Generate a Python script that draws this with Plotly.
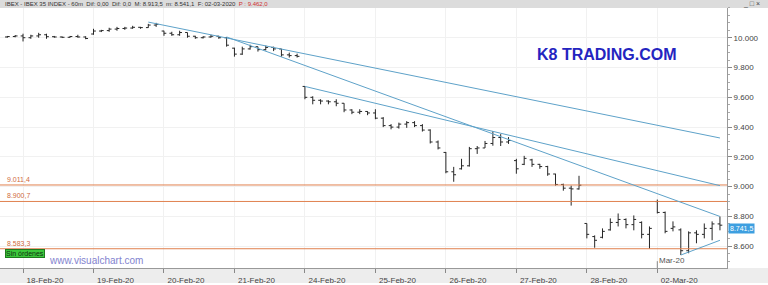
import plotly.graph_objects as go

# ---- data (hourly bars, index 0 = first bar of 18-Feb-20, 9 bars per day) ----
bar_idx = list(range(-2, 90))
opens = [10005, 10008,
         10012, 10000, 10012, 10020, 10007, 10005, 10003, 10008, 10005,
         10025, 10045, 10048, 10058, 10062, 10065, 10070, 10068, 10085,
         10045, 10030, 10020, 10035, 10010, 10000, 10005, 10010, 10000,
         9930, 9890, 9925, 9940, 9920, 9935, 9925, 9885, 9880,
         9673, 9600, 9580, 9575, 9570, 9560, 9515, 9500, 9505,
         9495, 9460, 9410, 9400, 9420, 9430, 9410, 9380, 9300,
         9230, 9100, 9120, 9140, 9255, 9260, 9290, 9330, 9300,
         9175, 9150, 9180, 9150, 9135, 9085, 9015, 8990, 8985,
         8753, 8665, 8660, 8710, 8760, 8780, 8745, 8760, 8680,
         8900, 8827, 8720, 8710, 8570, 8690, 8680, 8720, 8750]
highs = [10012, 10018,
         10027, 10020, 10033, 10027, 10012, 10008, 10012, 10020, 10010,
         10060, 10053, 10067, 10073, 10073, 10080, 10073, 10093, 10100,
         10047, 10040, 10047, 10035, 10013, 10010, 10020, 10013, 10005,
         9933, 9940, 9953, 9940, 9947, 9940, 9925, 9900, 9893,
         9673, 9607, 9587, 9580, 9587, 9560, 9520, 9520, 9507,
         9520, 9467, 9420, 9430, 9440, 9440, 9420, 9385, 9310,
         9233, 9133, 9187, 9267, 9273, 9307, 9373, 9353, 9333,
         9187, 9207, 9187, 9153, 9140, 9087, 9020, 9007, 9073,
         8753, 8673, 8720, 8787, 8820, 8787, 8807, 8767, 8733,
         8913.5, 8833, 8767, 8720, 8700, 8707, 8753, 8767, 8800]
lows = [10000, 10003,
        9975, 9993, 10000, 9993, 10000, 9998, 10000, 10000, 9990,
        10020, 10038, 10040, 10047, 10053, 10060, 10060, 10067, 10073,
        10013, 10013, 10013, 10000, 9993, 9995, 10000, 9993, 9940,
        9873, 9885, 9920, 9907, 9915, 9910, 9873, 9867, 9867,
        9587, 9553, 9553, 9553, 9540, 9500, 9487, 9487, 9480,
        9453, 9400, 9385, 9390, 9395, 9400, 9370, 9290, 9250,
        9090, 9033, 9115, 9135, 9220, 9260, 9275, 9273, 9287,
        9087, 9145, 9133, 9120, 9073, 9007, 8973, 8873, 8980,
        8653, 8590, 8653, 8705, 8733, 8720, 8707, 8653, 8583.3,
        8820, 8687, 8700, 8541.1, 8553, 8620, 8653, 8640, 8707]
closes = [10008, 10012,
          10000, 10012, 10020, 10007, 10005, 10003, 10008, 10005, 9995,
          10045, 10048, 10058, 10062, 10065, 10070, 10068, 10085, 10090,
          10030, 10020, 10035, 10010, 10000, 10005, 10010, 10000, 9950,
          9890, 9925, 9940, 9920, 9935, 9925, 9885, 9880, 9875,
          9600, 9580, 9575, 9570, 9560, 9515, 9500, 9505, 9495,
          9460, 9410, 9400, 9420, 9430, 9410, 9380, 9300, 9260,
          9100, 9080, 9140, 9255, 9260, 9290, 9330, 9300, 9310,
          9120, 9190, 9150, 9135, 9085, 9015, 8990, 8985, 9010,
          8680, 8640, 8700, 8760, 8780, 8745, 8780, 8680, 8720,
          8827, 8700, 8730, 8570, 8690, 8680, 8720, 8750, 8741.5]

day_tick_idx = [0, 9, 18, 27, 36, 45, 54, 63, 72, 81]
day_labels = ["18-Feb-20", "19-Feb-20", "20-Feb-20", "21-Feb-20", "24-Feb-20",
              "25-Feb-20", "26-Feb-20", "27-Feb-20", "28-Feb-20", "02-Mar-20"]
price_ticks = [8600, 8800, 9000, 9200, 9400, 9600, 9800, 10000]
price_labels = ["8.600", "8.800", "9.000", "9.200", "9.400", "9.600", "9.800", "10.000"]

level_values = [9011.4, 8900.7, 8583.3]
level_labels = ["9.011,4", "8.900,7", "8.583,3"]

# trend lines: (x0, y0, x1, y1) in bar index / price
trend_lines = [(16, 10105, 89, 9327),
               (26, 10005, 89, 8800),
               (36, 9673, 89, 9007),
               (84, 8541, 89, 8640)]

last_price_label = "8.741,5"
last_price = 8741.5

# ---- figure ----
W, H = 768, 285
x_dom_end = 727 / W
y_dom = [15 / H, 277 / H]

fig = go.Figure()
fig.add_trace(go.Ohlc(
    x=bar_idx, open=opens, high=highs, low=lows, close=closes,
    increasing=dict(line=dict(color="#262626", width=1)),
    decreasing=dict(line=dict(color="#262626", width=1)),
    tickwidth=0.3, showlegend=False, hoverinfo="skip"))

shapes = []
shapes.append(dict(type="rect", xref="paper", yref="paper", x0=0, x1=1, y0=0, y1=y_dom[0],
                   fillcolor="#ededed", line=dict(width=0), layer="below"))
shapes.append(dict(type="rect", xref="paper", yref="paper", x0=0, x1=1, y0=y_dom[1], y1=1,
                   fillcolor="#dcdcdc", line=dict(width=0), layer="below"))
for v in level_values:
    shapes.append(dict(type="line", xref="paper", yref="y", x0=0, x1=x_dom_end, y0=v, y1=v,
                       line=dict(color="#e0814f", width=1)))
for (a, b, c, d) in trend_lines:
    shapes.append(dict(type="line", xref="x", yref="y", x0=a, y0=b, x1=c, y1=d,
                       line=dict(color="#5ea2c9", width=1)))
shapes.append(dict(type="line", xref="x", yref="paper", x0=81, x1=81,
                   y0=y_dom[0], y1=y_dom[0] + 7 / H, line=dict(color="#888888", width=1)))

annotations = []
for v, t in zip(level_values, level_labels):
    annotations.append(dict(xref="paper", yref="y", x=5 / W, y=v, text=t, showarrow=False,
                            xanchor="left", yanchor="bottom",
                            font=dict(size=7, color="#d06a40", family="Arial")))
annotations.append(dict(xref="paper", yref="paper", x=607 / W, y=1 - 55 / H,
                        text="<b>K8 TRADING.COM</b>", showarrow=False, xanchor="center", yanchor="middle",
                        font=dict(size=16, color="#2424c0", family="Liberation Sans, Arial")))
annotations.append(dict(xref="paper", yref="paper", x=96 / W, y=1 - 262 / H,
                        text="www.visualchart.com", showarrow=False, xanchor="center", yanchor="middle",
                        font=dict(size=10, color="#8383cf", family="Liberation Sans, Arial")))
annotations.append(dict(xref="paper", yref="paper", x=5 / W, y=1 - 255 / H,
                        text="Sin órdenes", showarrow=False, xanchor="left", yanchor="middle",
                        bgcolor="#3cc83c", bordercolor="#1f7a1f", borderwidth=1, borderpad=0,
                        font=dict(size=7, color="#103010", family="Arial")))
annotations.append(dict(xref="x", yref="paper", x=81, y=y_dom[0] + 1 / H,
                        text="Mar-20", showarrow=False, xanchor="left", yanchor="bottom",
                        font=dict(size=8, color="#555555", family="Arial")))
annotations.append(dict(xref="paper", yref="y", x=x_dom_end + 1 / W, y=last_price,
                        text=last_price_label, showarrow=False, xanchor="left", yanchor="middle",
                        yshift=-3, bgcolor="#3d9fe0", borderpad=1,
                        font=dict(size=7, color="#ffffff", family="Arial")))
annotations.append(dict(xref="paper", yref="paper", x=3 / W, y=1 - 4 / H,
                        text="IBEX - IBEX 35 INDEX - 60m  Dif: 0,00  Dif: 0,0  M: 8.913,5  m: 8.541,1  F: 02-03-2020  <span style='color:#d03030'>P : 9.462,0</span>",
                        showarrow=False, xanchor="left", yanchor="middle",
                        font=dict(size=6, color="#333333", family="Arial")))
annotations.append(dict(xref="paper", yref="paper", x=762 / W, y=1 - 4 / H,
                        text="_ □ ×", showarrow=False, xanchor="right", yanchor="middle",
                        font=dict(size=7, color="#444444", family="Arial")))

fig.update_layout(
    width=W, height=H, margin=dict(l=0, r=0, t=0, b=0),
    paper_bgcolor="white", plot_bgcolor="white",
    shapes=shapes, annotations=annotations,
    xaxis=dict(domain=[0, x_dom_end], range=[-2.94, 89.9], rangeslider=dict(visible=False),
               tickmode="array", tickvals=day_tick_idx, ticktext=day_labels,
               ticks="outside", ticklen=4, tickcolor="#888888",
               showline=True, linecolor="#999999", linewidth=1,
               showgrid=True, gridcolor="#f1f1f1", zeroline=False,
               ticklabelshift=22, ticklabelstandoff=0,
               tickfont=dict(size=8, color="#444444", family="Arial")),
    yaxis=dict(domain=y_dom, range=[8453.3, 10200], side="right",
               tickmode="array", tickvals=price_ticks, ticktext=price_labels,
               ticks="outside", ticklen=4, tickcolor="#888888",
               minor=dict(dtick=50, ticks="outside", ticklen=2, tickcolor="#aaaaaa", showgrid=False),
               showline=True, linecolor="#999999", linewidth=1,
               showgrid=True, gridcolor="#f1f1f1", zeroline=False,
               tickfont=dict(size=8, color="#444444", family="Arial")),
)

fig.write_html("out.html")
